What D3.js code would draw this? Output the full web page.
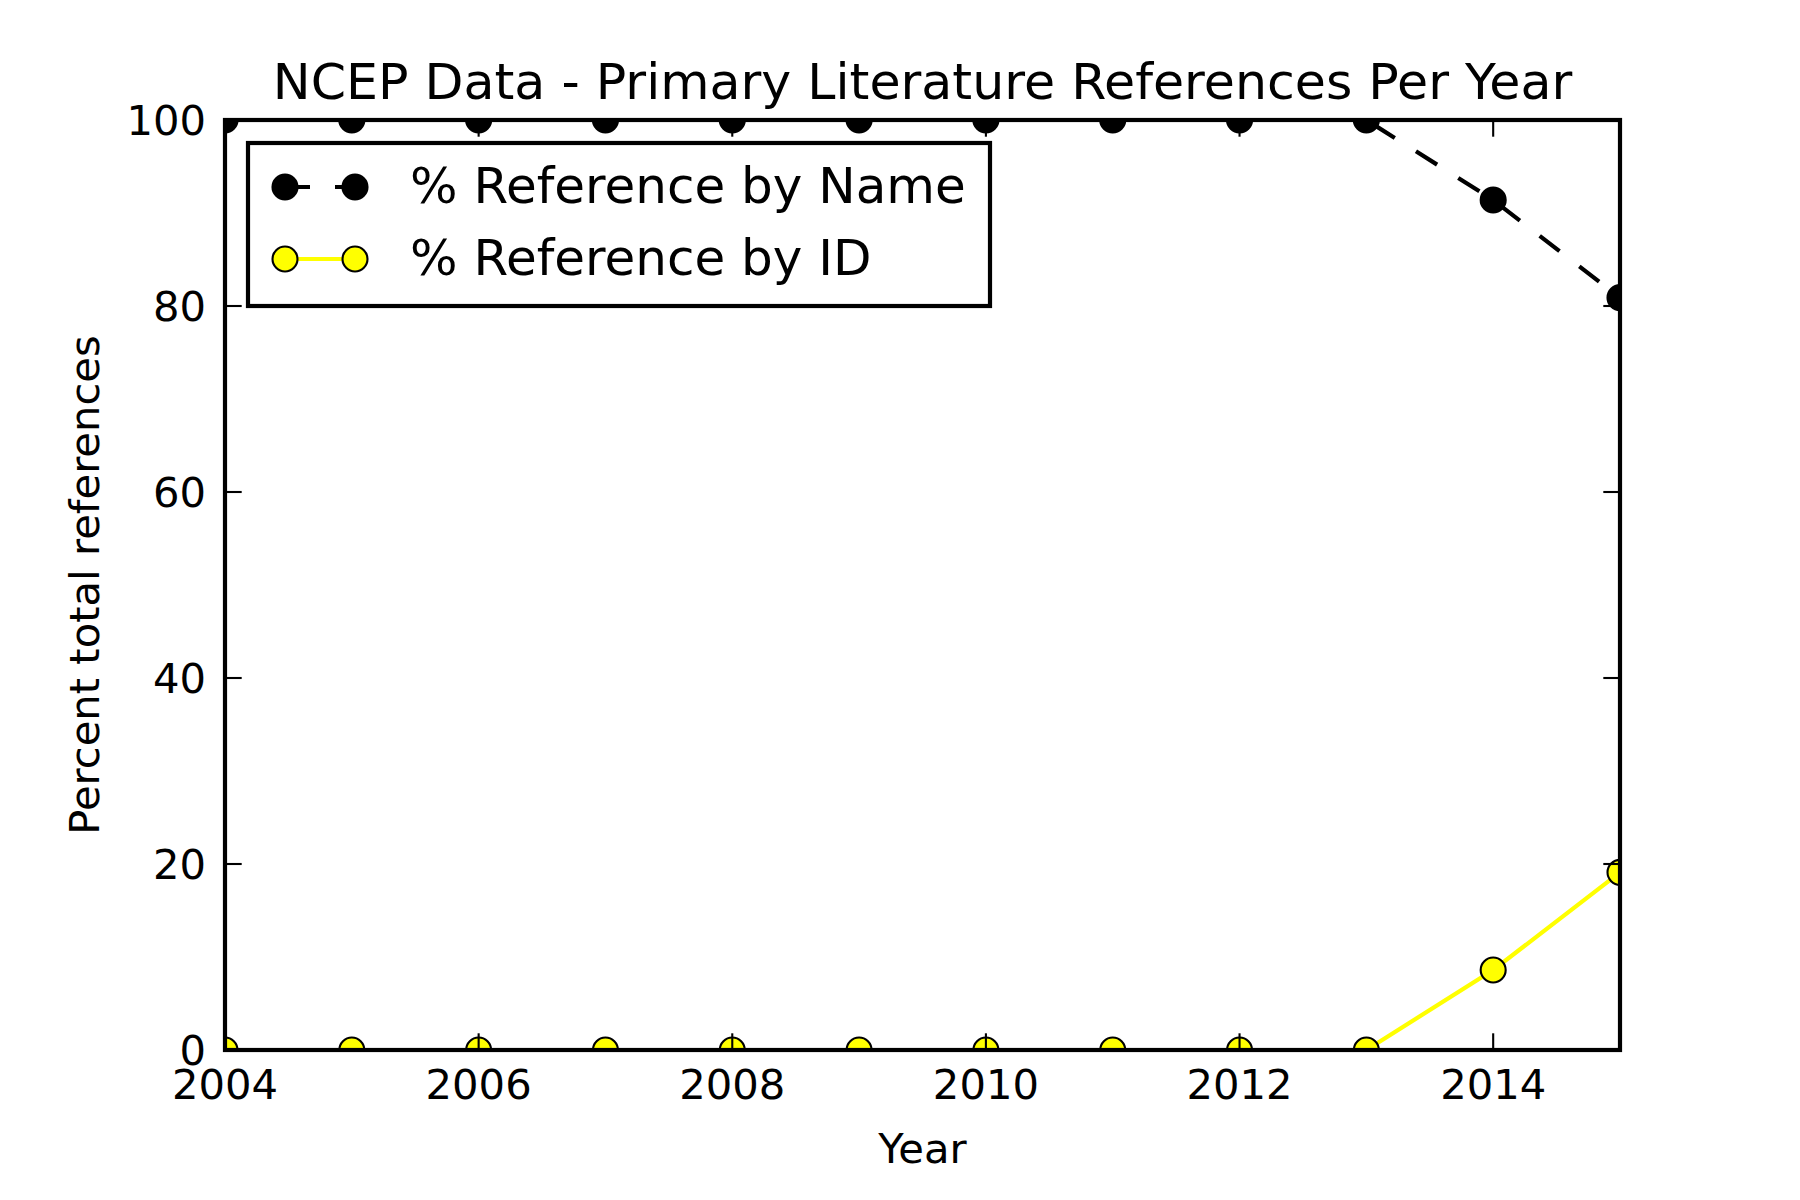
<!DOCTYPE html>
<html><head><meta charset="utf-8">
<script src="https://cdn.jsdelivr.net/npm/d3@7"></script>
<style>body{margin:0;background:#fff}svg{display:block}text{font-family:"DejaVu Sans";fill:#000}</style>
</head><body>
<script>
const years = [2004,2005,2006,2007,2008,2009,2010,2011,2012,2013,2014,2015];
const byName = [100,100,100,100,100,100,100,100,100,100,91.4,80.9];
const byId = [0,0,0,0,0,0,0,0,0,0,8.6,19.1];
const xTicks = [2004,2006,2008,2010,2012,2014];
const yTicks = [0,20,40,60,80,100];
const title = "NCEP Data - Primary Literature References Per Year";
const xLabel = "Year";
const yLabel = "Percent total references";
const legendLabels = ["% Reference by Name", "% Reference by ID"];

const W = 1800, H = 1200;
const m = {l:225, r:1620, t:120, b:1050};
const svg = d3.select("body").append("svg").attr("width",W).attr("height",H);
const x = d3.scaleLinear().domain([2004,2015]).range([m.l,m.r]);
const y = d3.scaleLinear().domain([0,100]).range([m.b,m.t]);

svg.append("defs").append("clipPath").attr("id","clip")
  .append("rect").attr("x",m.l).attr("y",m.t).attr("width",m.r-m.l).attr("height",m.b-m.t);

const plot = svg.append("g").attr("clip-path","url(#clip)");
const line = d3.line().x((d,i)=>x(years[i])).y(d=>y(d));
const series = [
  {vals:byName, stroke:"#000", dash:"25,25", fill:"#000"},
  {vals:byId, stroke:"#ffff00", dash:null, fill:"#ffff00"}
];
series.forEach(s=>{
  plot.append("path").datum(s.vals).attr("d",line).attr("fill","none")
    .attr("stroke",s.stroke).attr("stroke-width",4.2).attr("stroke-dasharray",s.dash);
});
series.forEach(s=>{
  plot.selectAll(null).data(s.vals).enter().append("circle")
    .attr("cx",(d,i)=>x(years[i])).attr("cy",d=>y(d)).attr("r",12.5)
    .attr("fill",s.fill).attr("stroke","#000").attr("stroke-width",2.1);
});

// ticks (inward, all four sides)
const tk = 16.7;
const tg = svg.append("g").attr("stroke","#000").attr("stroke-width",2.1);
xTicks.forEach(t=>{
  tg.append("line").attr("x1",x(t)).attr("x2",x(t)).attr("y1",m.b).attr("y2",m.b-tk);
  tg.append("line").attr("x1",x(t)).attr("x2",x(t)).attr("y1",m.t).attr("y2",m.t+tk);
});
yTicks.forEach(t=>{
  tg.append("line").attr("x1",m.l).attr("x2",m.l+tk).attr("y1",y(t)).attr("y2",y(t));
  tg.append("line").attr("x1",m.r).attr("x2",m.r-tk).attr("y1",y(t)).attr("y2",y(t));
});
svg.append("rect").attr("x",m.l).attr("y",m.t).attr("width",m.r-m.l).attr("height",m.b-m.t)
  .attr("fill","none").attr("stroke","#000").attr("stroke-width",4.2);

// tick labels
svg.selectAll(null).data(xTicks).enter().append("text")
  .attr("x",d=>x(d)).attr("y",m.b+49).attr("text-anchor","middle")
  .attr("font-size",41.7).text(d=>d);
svg.selectAll(null).data(yTicks).enter().append("text")
  .attr("x",m.l-19).attr("y",d=>y(d)+15).attr("text-anchor","end")
  .attr("font-size",41.7).text(d=>d);

// labels
svg.append("text").attr("x",(m.l+m.r)/2).attr("y",99).attr("text-anchor","middle")
  .attr("font-size",50.6).text(title);
svg.append("text").attr("x",(m.l+m.r)/2).attr("y",1163).attr("text-anchor","middle")
  .attr("font-size",41.7).text(xLabel);
svg.append("text").attr("transform",`translate(99,${(m.t+m.b)/2}) rotate(-90)`)
  .attr("text-anchor","middle").attr("font-size",41.7).text(yLabel);

// legend
const lg = svg.append("g");
lg.append("rect").attr("x",248).attr("y",143).attr("width",742).attr("height",163)
  .attr("fill","#fff").attr("stroke","#000").attr("stroke-width",4.2);
const rows = [187,259];
series.forEach((s,i)=>{
  const ry = rows[i];
  lg.append("line").attr("x1",285).attr("x2",355).attr("y1",ry).attr("y2",ry)
    .attr("stroke",s.stroke).attr("stroke-width",4.2).attr("stroke-dasharray",s.dash);
  [285,355].forEach(cx=>lg.append("circle").attr("cx",cx).attr("cy",ry).attr("r",12.5)
    .attr("fill",s.fill).attr("stroke","#000").attr("stroke-width",2.1));
  lg.append("text").attr("x",410).attr("y",ry+16).attr("font-size",50).text(legendLabels[i]);
});
</script>
</body></html>
